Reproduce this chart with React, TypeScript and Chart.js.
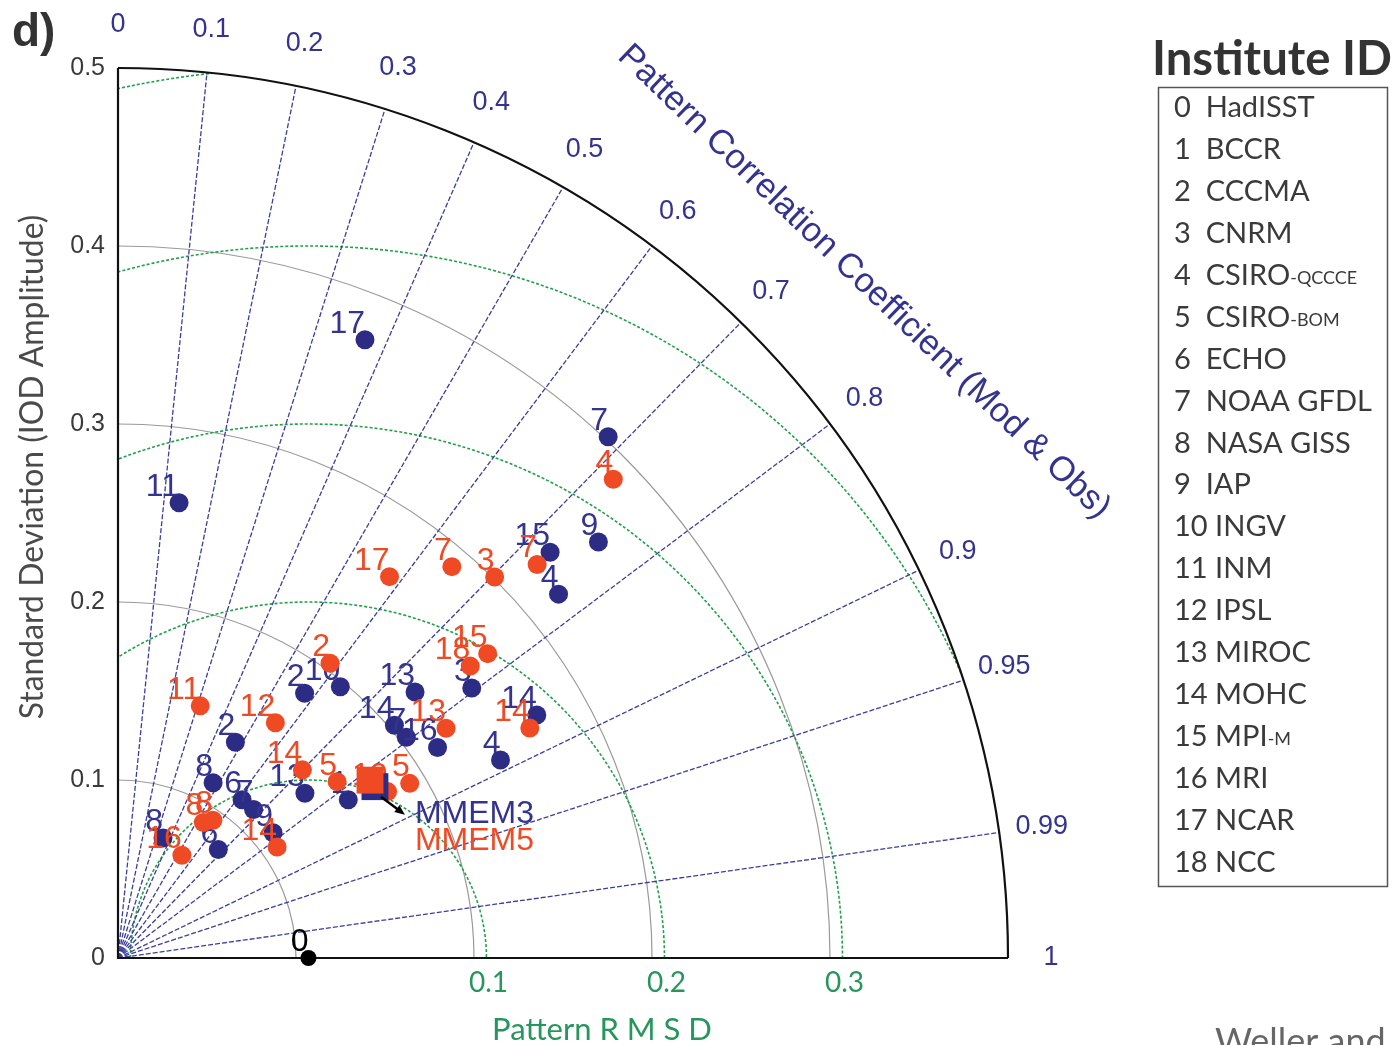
import React, { useEffect, useRef } from "react";
import { Chart, registerables } from "chart.js";

Chart.register(...registerables);

// ---------------- data ----------------
const instituteIds = [0, 1, 2, 3, 4, 5, 6, 7, 8, 9, 10, 11, 12, 13, 14, 15, 16, 17, 18];
const instituteNames = ["HadISST", "BCCR", "CCCMA", "CNRM", "CSIRO", "CSIRO", "ECHO", "NOAA GFDL", "NASA GISS", "IAP", "INGV", "INM", "IPSL", "MIROC", "MOHC", "MPI", "MRI", "NCAR", "NCC"];
const instituteSuffix = ["", "", "", "", "-QCCCE", "-BOM", "", "", "", "", "", "", "", "", "", "-M", "", "", ""];

// CMIP3 models (blue): institute id, standard deviation, pattern correlation
const cmip3Ids = [17, 11, 7, 9, 15, 4, 3, 14, 4, 13, 14, 7, 16, 2, 10, 2, 8, 6, 7, 9, 13, 1, 8, 6];
const cmip3Std = [0.374, 0.258, 0.402, 0.357, 0.333, 0.321, 0.25, 0.272, 0.242, 0.224, 0.203, 0.204, 0.215, 0.182, 0.197, 0.138, 0.112, 0.113, 0.113, 0.112, 0.14, 0.157, 0.072, 0.083];
const cmip3Corr = [0.371, 0.133, 0.685, 0.756, 0.729, 0.771, 0.795, 0.865, 0.888, 0.745, 0.765, 0.794, 0.835, 0.576, 0.634, 0.478, 0.477, 0.617, 0.674, 0.778, 0.75, 0.824, 0.351, 0.679];

// CMIP5 models (red)
const cmip5Ids = [4, 7, 3, 7, 17, 15, 18, 14, 13, 2, 11, 12, 14, 5, 10, 5, 14, 16, 8, 8];
const cmip5Std = [0.387, 0.323, 0.301, 0.289, 0.263, 0.269, 0.257, 0.265, 0.225, 0.204, 0.149, 0.159, 0.148, 0.158, 0.178, 0.191, 0.109, 0.068, 0.09, 0.094];
const cmip5Corr = [0.719, 0.729, 0.703, 0.649, 0.58, 0.772, 0.77, 0.873, 0.819, 0.584, 0.31, 0.556, 0.7, 0.779, 0.851, 0.858, 0.82, 0.528, 0.533, 0.567];

// multi-model ensemble means
const mmemNames = ["MMEM3", "MMEM5"];
const mmemStd = [0.1735, 0.1733];
const mmemCorr = [0.832, 0.817];

// observation (HadISST)
const refStd = 0.107;
const refCorr = 1;

const stdTicks = [0, 0.1, 0.2, 0.3, 0.4, 0.5];
const stdArcs = [0.1, 0.2, 0.3, 0.4];
const corrTicks = [0, 0.1, 0.2, 0.3, 0.4, 0.5, 0.6, 0.7, 0.8, 0.9, 0.95, 0.99, 1];
const rmsdLevels = [0.1, 0.2, 0.3, 0.4, 0.5];
const rmsdTickLabels = [0.1, 0.2, 0.3];
const stdMax = 0.5;

// ---------------- styling ----------------
const BLUE = "#2d2c85";
const BLUE_TXT = "#34338f";
const RED = "#ef4a24";
const GREEN_LINE = "#1fa04a";
const GREEN_TXT = "#27965c";
const SANS = "'Liberation Sans', Arial, sans-serif";
const CAL = "Lato, 'Open Sans', sans-serif";

const toXY = (s: number, c: number) => ({ x: s * c, y: s * Math.sqrt(Math.max(0, 1 - c * c)) });
const points = (std: number[], corr: number[]) => std.map((s, i) => toXY(s, corr[i]));

function fitFont(ctx: CanvasRenderingContext2D, text: string, family: string, weight: string, target: number) {
  ctx.font = `${weight} 100px ${family}`;
  const w = ctx.measureText(text).width;
  return (100 * target) / w;
}

const taylorPlugin = {
  id: "taylor",
  beforeDatasetsDraw(chart: any) {
    const ctx: CanvasRenderingContext2D = chart.ctx;
    const xs = chart.scales.x;
    const ys = chart.scales.y;
    const ox = xs.getPixelForValue(0);
    const oy = ys.getPixelForValue(0);
    const rp = (v: number) => xs.getPixelForValue(v) - ox;
    const Rmax = rp(stdMax);
    ctx.save();

    // standard deviation arcs (grey)
    ctx.strokeStyle = "#9a9a9a";
    ctx.lineWidth = 1.2;
    for (const s of stdArcs) {
      ctx.beginPath();
      ctx.arc(ox, oy, rp(s), -Math.PI / 2, 0);
      ctx.stroke();
    }

    // RMSD arcs (green dashed), clipped to quarter disc
    ctx.save();
    ctx.beginPath();
    ctx.moveTo(ox, oy);
    ctx.arc(ox, oy, Rmax, -Math.PI / 2, 0);
    ctx.closePath();
    ctx.clip();
    ctx.strokeStyle = GREEN_LINE;
    ctx.setLineDash([3, 2]);
    ctx.lineWidth = 1.6;
    const rx = xs.getPixelForValue(refStd);
    for (const r of rmsdLevels) {
      ctx.beginPath();
      ctx.arc(rx, oy, rp(r), Math.PI, 2 * Math.PI);
      ctx.stroke();
    }
    ctx.restore();

    // correlation rays
    ctx.strokeStyle = "#3d3d9e";
    ctx.setLineDash([5, 2]);
    ctx.lineWidth = 1.3;
    for (const c of corrTicks) {
      if (c <= 0 || c >= 1) continue;
      const t = Math.acos(c);
      ctx.beginPath();
      ctx.moveTo(ox, oy);
      ctx.lineTo(ox + Rmax * Math.cos(t), oy - Rmax * Math.sin(t));
      ctx.stroke();
    }
    ctx.setLineDash([]);

    // axes and outer arc
    ctx.strokeStyle = "#111";
    ctx.lineWidth = 2.2;
    ctx.beginPath();
    ctx.moveTo(ox, oy - Rmax);
    ctx.lineTo(ox, oy);
    ctx.lineTo(ox + Rmax, oy);
    ctx.stroke();
    ctx.beginPath();
    ctx.arc(ox, oy, Rmax, -Math.PI / 2, 0);
    ctx.stroke();

    // std tick labels
    ctx.fillStyle = "#3a3a3a";
    ctx.font = `25px ${SANS}`;
    ctx.textAlign = "right";
    ctx.textBaseline = "middle";
    for (const s of stdTicks) {
      ctx.fillText(String(s), ox - 13, ys.getPixelForValue(s));
    }

    // correlation labels
    ctx.fillStyle = BLUE_TXT;
    ctx.font = `27px ${SANS}`;
    ctx.textAlign = "center";
    for (const c of corrTicks) {
      const t = Math.acos(c);
      const R = Rmax + 43;
      ctx.fillText(String(c), ox + R * Math.cos(t), oy - R * Math.sin(t));
    }

    // correlation title (straight, rotated)
    const title = "Pattern Correlation Coefficient (Mod & Obs)";
    const fs = fitFont(ctx, title, SANS, "normal", 668);
    ctx.save();
    ctx.translate(864, 282);
    ctx.rotate((43.8 * Math.PI) / 180);
    ctx.font = `${fs}px ${SANS}`;
    ctx.fillStyle = BLUE_TXT;
    ctx.textAlign = "center";
    ctx.textBaseline = "middle";
    ctx.fillText(title, 0, 0);
    ctx.restore();

    // RMSD tick labels
    ctx.fillStyle = GREEN_TXT;
    ctx.font = `28px ${CAL}`;
    ctx.textAlign = "center";
    ctx.textBaseline = "middle";
    for (const r of rmsdTickLabels) {
      ctx.fillText(String(r), xs.getPixelForValue(refStd + r) + 2, oy + 25);
    }
    const rl = "Pattern R M S D";
    ctx.font = `${fitFont(ctx, rl, CAL, "normal", 220)}px ${CAL}`;
    ctx.fillText(rl, 602, oy + 72);

    // y axis title
    const yl = "Standard Deviation (IOD Amplitude)";
    const yfs = fitFont(ctx, yl, CAL, "normal", 505);
    ctx.save();
    ctx.translate(33, 467);
    ctx.rotate(-Math.PI / 2);
    ctx.font = `${yfs}px ${CAL}`;
    ctx.fillStyle = "#4a4a4a";
    ctx.fillText(yl, 0, 0);
    ctx.restore();

    // panel letter
    ctx.fillStyle = "#333";
    ctx.font = `bold 46px ${SANS}`;
    ctx.textAlign = "left";
    ctx.textBaseline = "alphabetic";
    ctx.fillText("d)", 12, 46);

    // legend
    const lt = "Institute ID";
    ctx.font = `bold ${fitFont(ctx, lt, CAL, "bold", 240)}px ${CAL}`;
    ctx.fillStyle = "#333";
    ctx.textAlign = "center";
    ctx.fillText(lt, 1272, 75);
    ctx.strokeStyle = "#555";
    ctx.lineWidth = 1.5;
    ctx.strokeRect(1158.5, 87.5, 229, 799);
    const efs = fitFont(ctx, "7  NOAA GFDL", CAL, "normal", 198);
    ctx.textAlign = "left";
    ctx.textBaseline = "middle";
    instituteIds.forEach((id, i) => {
      const y = 108 + i * 41.9;
      ctx.font = `${efs}px ${CAL}`;
      ctx.fillStyle = "#3a3a3a";
      const main = `${id}${id < 10 ? "  " : " "}${instituteNames[i]}`;
      ctx.fillText(main, 1174, y);
      if (instituteSuffix[i]) {
        const w = ctx.measureText(main).width;
        ctx.font = `${efs * 0.62}px ${CAL}`;
        ctx.fillText(instituteSuffix[i], 1174 + w, y + 3);
      }
    });

    // cut-off citation text
    ctx.font = `36px ${CAL}`;
    ctx.fillStyle = "#666";
    ctx.textAlign = "left";
    ctx.textBaseline = "alphabetic";
    ctx.fillText("Weller and", 1215, 1054);

    ctx.restore();
  },
  afterDatasetDraw(chart: any, args: any) {
    const ds = chart.data.datasets[args.index];
    if (!ds.ids) return;
    const ctx: CanvasRenderingContext2D = chart.ctx;
    ctx.save();
    ctx.fillStyle = ds.labelColor;
    ctx.font = `32px ${SANS}`;
    ctx.textAlign = "right";
    ctx.textBaseline = "alphabetic";
    args.meta.data.forEach((el: any, j: number) => {
      ctx.fillText(String(ds.ids[j]), el.x, el.y - 7);
    });
    ctx.restore();
  },
  afterDatasetsDraw(chart: any) {
    const ctx: CanvasRenderingContext2D = chart.ctx;
    const meta = chart.getDatasetMeta(2);
    const el = meta.data[0];
    if (!el) return;
    const x0 = el.x + 6, y0 = el.y + 10;
    const x1 = el.x + 30, y1 = el.y + 28;
    ctx.save();
    ctx.strokeStyle = "#000";
    ctx.fillStyle = "#000";
    ctx.lineWidth = 2.5;
    ctx.beginPath();
    ctx.moveTo(x0, y0);
    ctx.lineTo(x1 - 6, y1 - 4.5);
    ctx.stroke();
    const ang = Math.atan2(y1 - y0, x1 - x0);
    ctx.beginPath();
    ctx.moveTo(x1, y1);
    ctx.lineTo(x1 - 11 * Math.cos(ang - 0.4), y1 - 11 * Math.sin(ang - 0.4));
    ctx.lineTo(x1 - 11 * Math.cos(ang + 0.4), y1 - 11 * Math.sin(ang + 0.4));
    ctx.closePath();
    ctx.fill();
    ctx.font = `32px ${SANS}`;
    ctx.textAlign = "left";
    ctx.textBaseline = "alphabetic";
    ctx.fillStyle = BLUE_TXT;
    ctx.fillText(mmemNames[0], el.x + 40, el.y + 36);
    ctx.fillStyle = RED;
    ctx.fillText(mmemNames[1], el.x + 40, el.y + 63);
    ctx.restore();
  },
};

export default function App() {
  const ref = useRef<HTMLCanvasElement | null>(null);
  useEffect(() => {
    if (!ref.current) return;
    const mm = points(mmemStd, mmemCorr);
    const chart = new Chart(ref.current, {
      type: "scatter",
      data: {
        datasets: [
          {
            label: "CMIP3",
            data: points(cmip3Std, cmip3Corr),
            pointRadius: 9.5,
            pointBackgroundColor: BLUE,
            pointBorderWidth: 0,
            ids: cmip3Ids,
            labelColor: BLUE_TXT,
            order: 5,
            clip: false,
          } as any,
          {
            label: "CMIP5",
            data: points(cmip5Std, cmip5Corr),
            pointRadius: 9.5,
            pointBackgroundColor: RED,
            pointBorderWidth: 0,
            ids: cmip5Ids,
            labelColor: RED,
            order: 4,
            clip: false,
          } as any,
          {
            label: mmemNames[0],
            data: [mm[0]],
            pointStyle: "rect",
            pointRadius: 19,
            pointBackgroundColor: BLUE,
            pointBorderWidth: 0,
            order: 3,
            clip: false,
          } as any,
          {
            label: mmemNames[1],
            data: [mm[1]],
            pointStyle: "rect",
            pointRadius: 19,
            pointBackgroundColor: RED,
            pointBorderWidth: 0,
            order: 2,
            clip: false,
          } as any,
          {
            label: "HadISST",
            data: [toXY(refStd, refCorr)],
            pointRadius: 8,
            pointBackgroundColor: "#000",
            pointBorderWidth: 0,
            ids: [0],
            labelColor: "#000",
            order: 1,
            clip: false,
          } as any,
        ],
      },
      options: {
        animation: false,
        responsive: false,
        maintainAspectRatio: false,
        devicePixelRatio: 1,
        layout: { padding: { left: 118, top: 68, right: 392, bottom: 87 } },
        scales: {
          x: { type: "linear", min: 0, max: stdMax, display: false },
          y: { type: "linear", min: 0, max: stdMax, display: false },
        },
        plugins: { legend: { display: false }, tooltip: { enabled: false } },
      },
      plugins: [taylorPlugin as any],
    });
    return () => chart.destroy();
  }, []);
  return (
    <div style={{ position: "absolute", left: 0, top: 0, width: 1400, height: 1045, background: "#fff" }}>
      <canvas ref={ref} width={1400} height={1045} style={{ display: "block" }} />
    </div>
  );
}
